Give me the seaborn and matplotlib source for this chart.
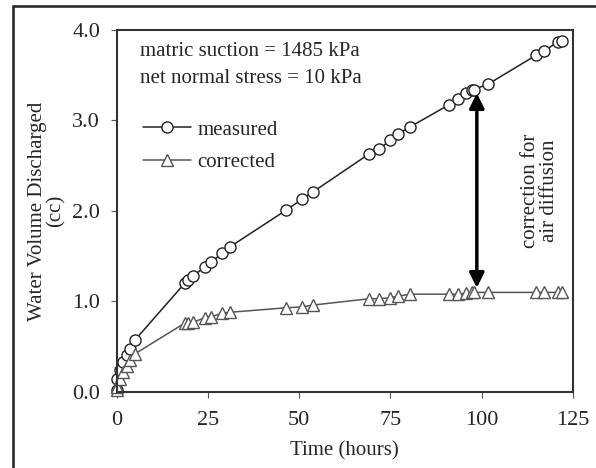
import numpy as np
import pandas as pd
import matplotlib
matplotlib.use("Agg")
import matplotlib.pyplot as plt
import seaborn as sns
from matplotlib.patches import Rectangle
from matplotlib.lines import Line2D

# time (hours) for each reading
time_h = [0.0, 0.1, 0.8, 1.7, 2.7, 3.7, 4.9,
          18.6, 19.6, 20.9, 24.1, 25.9, 28.9, 30.9,
          46.5, 50.8, 53.8, 69.2, 71.8, 75.0, 77.2, 80.5,
          91.0, 93.6, 95.8, 97.4, 97.9, 101.8, 115.0, 117.0, 121.0, 122.0]
measured = [0.02, 0.14, 0.24, 0.33, 0.41, 0.47, 0.57,
            1.20, 1.24, 1.28, 1.38, 1.44, 1.53, 1.60,
            2.01, 2.13, 2.21, 2.63, 2.68, 2.78, 2.85, 2.93,
            3.17, 3.23, 3.30, 3.33, 3.34, 3.40, 3.72, 3.76, 3.87, 3.88]
corrected = [0.02, 0.06, 0.14, 0.22, 0.29, 0.35, 0.42,
             0.76, 0.76, 0.77, 0.82, 0.83, 0.87, 0.88,
             0.93, 0.94, 0.96, 1.03, 1.03, 1.04, 1.06, 1.08,
             1.08, 1.08, 1.09, 1.10, 1.10, 1.10, 1.10, 1.10, 1.10, 1.10]

x_ticks = [0, 25, 50, 75, 100, 125]
y_ticks = [0.0, 1.0, 2.0, 3.0, 4.0]

# arrow span for the air diffusion correction
arrow_t = 98.7
arrow_top = 3.33
arrow_bottom = 1.12

df = pd.DataFrame({"time": time_h, "measured": measured, "corrected": corrected})
long = df.melt(id_vars="time", var_name="series", value_name="volume")

sns.set_theme(style="ticks")
plt.rcParams['font.family'] = ['Liberation Serif', 'DejaVu Serif']

fig = plt.figure(figsize=(5.96, 4.68), dpi=100)
ax = fig.add_axes([0.196, 0.1624, 0.765, 0.774])

colors = {"measured": "#222222", "corrected": "#555555"}
sns.lineplot(data=long, x="time", y="volume", hue="series", style="series",
             markers={"measured": "o", "corrected": "^"}, dashes=False,
             palette=colors, markersize=8, markerfacecolor="white", markeredgewidth=1.0,
             linewidth=1.1, ax=ax, legend=False)
for l in ax.lines:
    l.set_markeredgecolor(l.get_color())
    l.set_clip_on(False)
    if l.get_marker() == "^":
        l.set_markersize(9)

ax.set_xlim(0, 125)
ax.set_ylim(0, 4.0)
ax.set_xticks(x_ticks)
ax.set_yticks(y_ticks)
ax.set_yticklabels([f"{v:.1f}" for v in y_ticks])
ax.tick_params(labelsize=16, length=4, width=0.8, color="#555555")
ax.tick_params(axis="y", pad=8)
ax.tick_params(axis="x", pad=10)
for s in ax.spines.values():
    s.set_linewidth(1.5)
    s.set_color("#333333")
    s.set_visible(True)
ax.set_xlabel("Time (hours)", fontsize=15, labelpad=8)
ax.set_ylabel("Water Volume Discharged\n(cc)", fontsize=15, linespacing=0.95, labelpad=5)

ax.text(6.3, 3.76, "matric suction = 1485 kPa", fontsize=15, va="center")
ax.text(6.3, 3.46, "net normal stress = 10 kPa", fontsize=15, va="center")

handles = [Line2D([], [], color=colors["measured"], marker="o", markersize=8,
                  markerfacecolor="white", lw=1.1),
           Line2D([], [], color=colors["corrected"], marker="^", markersize=9,
                  markerfacecolor="white", lw=1.1)]
ax.legend(handles, ["measured", "corrected"], loc="upper left", bbox_to_anchor=(0.03, 0.785),
          frameon=False, fontsize=15, handlelength=2.3, handletextpad=0.3,
          labelspacing=0.6, borderaxespad=0.2)

ax.annotate("", xy=(arrow_t, arrow_top), xytext=(arrow_t, arrow_bottom),
            arrowprops=dict(arrowstyle="<|-|>", color="black", lw=2.5, mutation_scale=22))
ax.text(116, 2.22, "correction for\nair diffusion", rotation=90, fontsize=15,
        ha="center", va="center", linespacing=1.0)

fig.patches.append(Rectangle((13 / 596, -0.05), 1.0, 1 - 6 / 468 + 0.05, transform=fig.transFigure,
                             fill=False, edgecolor="#222222", lw=1.8))

fig.savefig("out.png", dpi=100)
